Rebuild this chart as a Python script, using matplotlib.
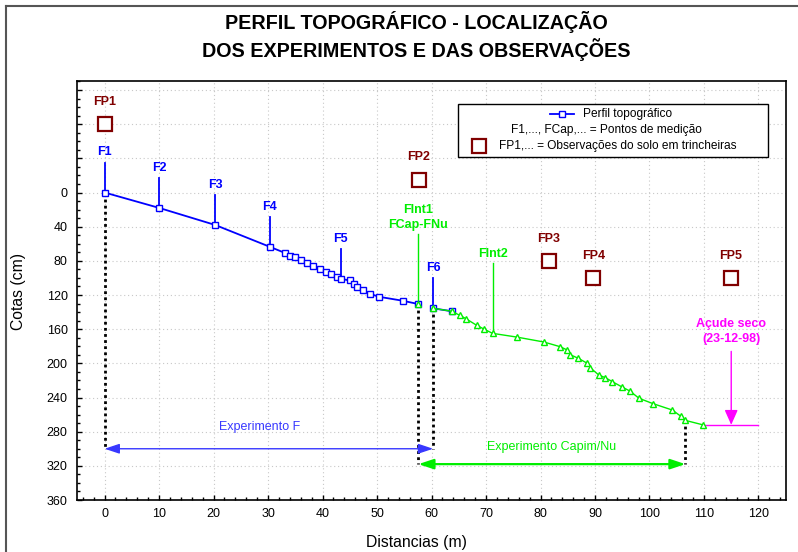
import numpy as np
import matplotlib.pyplot as plt
from matplotlib.lines import Line2D
from matplotlib.patches import Rectangle
from matplotlib.ticker import MultipleLocator, FuncFormatter

plt.rcParams['font.family'] = ['Liberation Sans', 'DejaVu Sans']

# perfil topografico (distancia em m, cota em cm)
perfil_x = [0, 10, 20.3, 30.3, 33.2, 34.0, 35.0, 36.1, 37.2, 38.3, 39.6, 40.7,
            41.6, 42.6, 43.3, 45.0, 45.8, 46.4, 47.5, 48.7, 50.3, 54.7, 57.6,
            np.nan, 60.3, 63.7]
perfil_y = [0, 18, 38, 63.5, 71, 74, 76, 79, 83, 86, 89.6, 92.7,
            95.8, 99, 101, 103, 107, 110.7, 114, 118.5, 122, 126.7, 130.6,
            np.nan, 135.6, 139]

# trecho do experimento capim/nu
capim_x = [57.6, np.nan, 60.3, 63.7, 65.2, 66.3, 68.3, 69.6, 71.2, 75.6, 80.6,
           83.6, 84.9, 85.5, 86.9, 88.6, 89.1, 90.7, 91.9, 93.2, 95.0, 96.4,
           98.1, 100.7, 104.2, 105.7, 106.6, 109.8]
capim_y = [130.6, np.nan, 135.6, 139, 143.8, 147.7, 155.5, 159.8, 164.9, 169.2,
           175, 180.5, 184.4, 190, 194, 200, 205, 213.7, 216.8, 221.5, 227.8,
           232.4, 241, 247.3, 254.7, 261.7, 266.8, 272]

# pontos de medicao (indices no perfil)
f_nomes = ['F1', 'F2', 'F3', 'F4', 'F5', 'F6']
f_idx = [0, 1, 2, 3, 14, 24]
fint_nomes = ['FInt1\nFCap-FNu', 'FInt2']
fint_idx = [0, 8]

# observacoes do solo em trincheiras
fp_nomes = ['FP1', 'FP2', 'FP3', 'FP4', 'FP5']
fp_x = [0, 57.7, 81.5, 89.7, 114.9]
fp_y = [-80, -15, 80, 100.5, 100.5]

# acude seco
acude_x = [110, 120]
acude_y = [272, 272]

# limites dos experimentos
exp_f = [0, 60.3]
exp_capim = [57.6, 106.6]
cota_exp_f = 300
cota_exp_capim = 318

AZUL = '#0000ff'
VERDE = '#00ee00'
MARROM = '#800000'
MAGENTA = '#ff00ff'

fig = plt.figure(figsize=(7.98, 5.52), dpi=100)
ax = fig.add_axes([0.0969, 0.0942, 0.8877, 0.7582])

ax.plot(perfil_x, perfil_y, '-', color=AZUL, lw=1.3, marker='s', ms=4.5,
        mfc='white', mec=AZUL, mew=1.0, zorder=4)
ax.plot(capim_x, capim_y, '-', color=VERDE, lw=1.0, marker='^', ms=4,
        mfc='white', mec=VERDE, mew=1.0, zorder=5)

# marcas F1..F6
for nome, i in zip(f_nomes, f_idx):
    x, y = perfil_x[i], perfil_y[i]
    ax.plot([x, x], [y, y - 35], color=AZUL, lw=1.3, zorder=3)
    ax.text(x, y - 40, nome, color=AZUL, fontsize=9, fontweight='bold',
            ha='center', va='bottom')

# marcas FInt
for nome, i in zip(fint_nomes, fint_idx):
    x, y = capim_x[i], capim_y[i]
    ax.plot([x, x], [y, y - 82], color=VERDE, lw=1.0, zorder=3)
    ax.text(x, y - 86, nome, color=VERDE, fontsize=9, fontweight='bold',
            ha='center', va='bottom', linespacing=1.25)

# trincheiras
ax.plot(fp_x, fp_y, 's', ms=9.5, mfc='white', mec=MARROM, mew=1.6,
        linestyle='none', zorder=5)
for nome, x, y in zip(fp_nomes, fp_x, fp_y):
    ax.text(x, y - 26, nome, color=MARROM, fontsize=9, fontweight='bold',
            ha='center', va='center')

# linhas verticais pontilhadas
ax.plot([exp_f[0]] * 2, [perfil_y[0], cota_exp_f], color='black', lw=2,
        ls=(0, (1, 1.2)), zorder=2)
ax.plot([exp_f[1]] * 2, [perfil_y[24], cota_exp_f], color='black', lw=2,
        ls=(0, (1, 1.2)), zorder=2)
ax.plot([exp_capim[0]] * 2, [capim_y[0], cota_exp_capim], color='black', lw=2,
        ls=(0, (1, 1.2)), zorder=2)
ax.plot([exp_capim[1]] * 2, [capim_y[-2], cota_exp_capim], color='black', lw=2,
        ls=(0, (1, 1.2)), zorder=2)

# setas dos experimentos
ax.annotate('', xy=(exp_f[1], cota_exp_f), xytext=(exp_f[0], cota_exp_f),
            arrowprops=dict(arrowstyle='<|-|>,head_length=0.9,head_width=0.3',
                            color='#3838ff', lw=1.0, mutation_scale=10,
                            shrinkA=0, shrinkB=0))
ax.text(28.5, 275, 'Experimento F', color='#3838ff', fontsize=9,
        ha='center', va='center')
ax.annotate('', xy=(exp_capim[1], cota_exp_capim),
            xytext=(exp_capim[0], cota_exp_capim),
            arrowprops=dict(arrowstyle='<|-|>,head_length=0.9,head_width=0.3',
                            color=VERDE, lw=1.6, mutation_scale=10,
                            shrinkA=0, shrinkB=0))
ax.text(82, 298, 'Experimento Capim/Nu', color=VERDE, fontsize=9,
        ha='center', va='center')

# acude seco
ax.plot(acude_x, acude_y, color=MAGENTA, lw=1.0, zorder=3)
ax.annotate('', xy=(115, acude_y[0]), xytext=(115, 186),
            arrowprops=dict(arrowstyle='-|>,head_length=0.9,head_width=0.4',
                            color=MAGENTA, lw=1.0, mutation_scale=10,
                            shrinkA=0, shrinkB=0))
ax.text(115, 163, 'Açude seco\n(23-12-98)', color=MAGENTA, fontsize=9,
        fontweight='bold', ha='center', va='center', linespacing=1.3)

# eixos
ax.set_xlim(-5, 125)
ax.set_ylim(360, -130)
ax.xaxis.set_major_locator(MultipleLocator(10))
ax.xaxis.set_minor_locator(MultipleLocator(2))
ax.yaxis.set_major_locator(MultipleLocator(40))
ax.yaxis.set_minor_locator(MultipleLocator(10))
ax.yaxis.set_major_formatter(FuncFormatter(lambda v, p: '' if v < 0 else f'{v:.0f}'))
ax.tick_params(which='both', direction='in', width=1, color='black',
               labelsize=9)
ax.tick_params(which='major', length=3.5)
ax.tick_params(which='minor', length=2.5)
ax.tick_params(axis='y', pad=7)
ax.tick_params(axis='x', pad=6)
ax.grid(True, which='major', color='#c8c8c8', lw=0.8, ls=(0, (1, 2.5)))
ax.set_axisbelow(True)
for s in ax.spines.values():
    s.set_linewidth(1.2)

# legenda
ax.add_patch(Rectangle((0.537, 0.8203), 0.438, 0.1252, transform=ax.transAxes,
                       facecolor='white', edgecolor='black', lw=1.0, zorder=6))
ax.add_line(Line2D([0.6672, 0.7011], [0.9213, 0.9213], transform=ax.transAxes,
                   color=AZUL, lw=1.3, zorder=7))
ax.add_line(Line2D([0.6842], [0.9213], transform=ax.transAxes, marker='s',
                   ms=4.5, mfc='white', mec=AZUL, mew=1.0, zorder=7))
ax.text(0.7134, 0.9213, 'Perfil topográfico', transform=ax.transAxes,
        fontsize=8.6, va='center', ha='left', zorder=7)
ax.text(0.747, 0.8841, 'F1,..., FCap,... = Pontos de medição',
        transform=ax.transAxes, fontsize=8.6, va='center', ha='center', zorder=7)
ax.add_line(Line2D([0.567], [0.8467], transform=ax.transAxes, marker='s',
                   ms=9.5, mfc='white', mec=MARROM, mew=1.6, zorder=7))
ax.text(0.5953, 0.8467, 'FP1,... = Observações do solo em trincheiras',
        transform=ax.transAxes, fontsize=8.6, va='center', ha='left', zorder=7)

# titulos
fig.text(416 / 798, 1 - 29.3 / 552, 'PERFIL TOPOGRÁFICO - LOCALIZAÇÃO',
         fontsize=14.2, fontweight='bold', ha='center', va='baseline')
fig.text(416 / 798, 1 - 57.3 / 552, 'DOS EXPERIMENTOS E DAS OBSERVAÇÕES',
         fontsize=14.2, fontweight='bold', ha='center', va='baseline')
fig.text(416.5 / 798, 1 - 547.3 / 552, 'Distancias (m)', fontsize=11.3,
         ha='center', va='baseline')
fig.text(19 / 798, 1 - 291 / 552, 'Cotas (cm)', fontsize=11.3, rotation=90,
         ha='center', va='center')

# moldura
fig.add_artist(Line2D([6 / 798, 6 / 798], [0, 1 - 6 / 552], color='#555555',
                      lw=1.5, transform=fig.transFigure))
fig.add_artist(Line2D([6 / 798, 1], [1 - 6 / 552, 1 - 6 / 552],
                      color='#555555', lw=1.5, transform=fig.transFigure))

fig.savefig('out.png', dpi=100)
